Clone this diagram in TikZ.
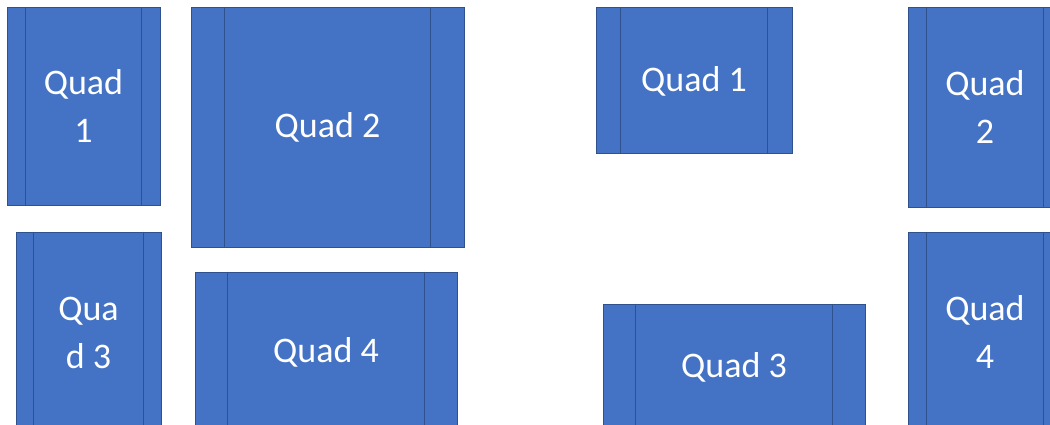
\documentclass[tikz,border=0pt]{standalone}
\usepackage{fontspec}
\setmainfont{Carlito}
\usepackage{tikz}
\usetikzlibrary{calc}
\definecolor{quadfill}{HTML}{4472C4}
\definecolor{quadline}{HTML}{2F528F}
\tikzset{
  quadbox/.style={draw=quadline, line width=1pt, fill=quadfill, text=white,
    inner sep=0pt, align=center, font=\fontsize{36}{48}\selectfont},
  divline/.style={draw=quadline, line width=1pt}
}

\begin{document}
\begin{tikzpicture}[x=1pt,y=-1pt]

  \useasboundingbox (0,0) rectangle (1050,425);
  \clip (0,0) rectangle (1050,425);

% left layout and right layout
  \foreach \n/\xa/\ya/\xb/\yb/\txt in {
      lquadone/7/8/160/205/{Quad\\1},
      lquadtwo/191/8/464/247/{Quad 2},
      lquadthree/16/232/161/433/{Qua\\d 3},
      lquadfour/195/272/457/432/{Quad 4},
      rquadone/596/8/792/154/{Quad 1},
      rquadtwo/908/8/1062/207/{Quad\\2},
      rquadthree/603/304/865/430/{Quad 3},
      rquadfour/908/232/1062/433/{Quad\\4}}{
    \node[quadbox, minimum width={\xb-\xa}, minimum height={\yb-\ya}]
      (\n) at ({(\xa+\xb)/2},{(\ya+\yb)/2}) {\txt};
    \draw[divline] ($(\n.north west)!0.125!(\n.north east)$) -- ($(\n.south west)!0.125!(\n.south east)$);
    \draw[divline] ($(\n.north west)!0.875!(\n.north east)$) -- ($(\n.south west)!0.875!(\n.south east)$);
  }

\end{tikzpicture}
\end{document}
